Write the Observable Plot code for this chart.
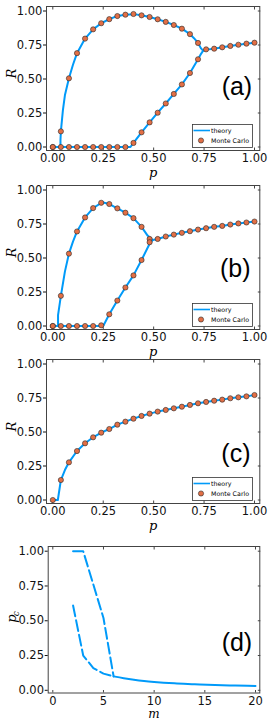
<!DOCTYPE html>
<html><head><meta charset="utf-8">
<script src="https://cdn.jsdelivr.net/npm/d3@7"></script>
<script src="https://cdn.jsdelivr.net/npm/@observablehq/plot@0.6"></script>
<style>
body{margin:0;background:#fff;width:274px;height:720px;overflow:hidden;position:relative;}
.panel{position:absolute;left:0;width:274px;}
.legend{position:absolute;}
</style></head><body>
<script>
// ---------- data ----------
const pMC = [0,0.04,0.08,0.12,0.16,0.2,0.24,0.28,0.32,0.36,0.4,0.44,0.48,0.52,0.56,0.6,0.64,0.68,0.72,0.76,0.8,0.84,0.88,0.92,0.96,1];

// panel (a)
const aMCUpper = [0,0.115,0.505,0.69,0.797,0.865,0.91,0.94,0.963,0.973,0.978,0.968,0.956,0.939,0.92,0.897,0.87,0.83,0.765,0.718,0.723,0.733,0.743,0.752,0.76,0.767];
const aMCLower = [0,0,0,0,0,0,0,0,0,0,0.03,0.108,0.181,0.252,0.32,0.39,0.46,0.544,0.645];
const aTheoryUpperP = [0,0.038,0.038,0.04,0.05,0.06,0.08,0.10,0.12,0.16,0.20,0.24,0.28,0.32,0.36,0.40,0.44,0.48,0.52,0.56,0.60,0.64,0.68,0.70,0.72,0.735,0.745,0.76,0.80,0.84,0.88,0.92,0.96,1.00];
const aTheoryUpperR = [0,0,0.05,0.115,0.27,0.38,0.505,0.605,0.69,0.797,0.865,0.91,0.94,0.963,0.973,0.977,0.968,0.956,0.939,0.92,0.897,0.87,0.83,0.80,0.765,0.725,0.708,0.716,0.723,0.733,0.743,0.752,0.76,0.767];
const aTheoryLowerP = [0,0.385,0.40,0.44,0.48,0.52,0.56,0.60,0.64,0.68,0.72,0.735,0.745];
const aTheoryLowerR = [0,0,0.03,0.108,0.181,0.252,0.32,0.39,0.46,0.544,0.645,0.685,0.708];

// panel (b)
const bMCUpper = [0,0.222,0.532,0.695,0.798,0.867,0.906,0.897,0.865,0.833,0.793,0.729,0.64,0.64,0.658,0.672,0.685,0.697,0.709,0.719,0.729,0.736,0.746,0.754,0.761,0.768];
const bMCLower = [0,0,0,0,0,0,0.005,0.086,0.187,0.283,0.372,0.485,0.616];
const bTheoryUpperP = [0,0.026,0.026,0.04,0.06,0.08,0.10,0.12,0.16,0.20,0.245,0.28,0.32,0.36,0.40,0.44,0.47,0.495,0.52,0.56,0.60,0.64,0.68,0.72,0.76,0.80,0.84,0.88,0.92,0.96,1.00];
const bTheoryUpperR = [0,0,0.08,0.222,0.40,0.532,0.62,0.695,0.798,0.867,0.91,0.897,0.865,0.833,0.793,0.729,0.665,0.632,0.64,0.658,0.672,0.685,0.697,0.709,0.719,0.729,0.736,0.746,0.754,0.761,0.768];
const bTheoryLowerP = [0,0.25,0.28,0.32,0.36,0.40,0.44,0.48,0.495];
const bTheoryLowerR = [0,0,0.086,0.187,0.283,0.372,0.485,0.605,0.632];

// panel (c)
const cMC = [0,0.147,0.277,0.36,0.417,0.461,0.495,0.522,0.554,0.576,0.598,0.618,0.635,0.65,0.662,0.674,0.686,0.699,0.711,0.721,0.73,0.738,0.748,0.755,0.762,0.772];
const cTheoryP = [0,0.025,0.04,0.06,0.08,0.12,0.16,0.2,0.24,0.28,0.32,0.36,0.4,0.44,0.48,0.52,0.56,0.6,0.64,0.68,0.72,0.76,0.8,0.84,0.88,0.92,0.96,1];
const cTheoryR = [0,0,0.147,0.22,0.277,0.36,0.417,0.461,0.495,0.522,0.554,0.576,0.598,0.618,0.635,0.65,0.662,0.674,0.686,0.699,0.711,0.721,0.73,0.738,0.748,0.755,0.762,0.772];

// panel (d)
const dUpperM = [2,3,4,5,6];
const dUpperP = [1,1,0.76,0.52,0.10];
const dLowerM = [2,3,4,5,6];
const dLowerP = [0.61,0.25,0.16,0.12,0.10];
const dSolidM = [6,7,8,9,10,12,14,16,18,20];
const dSolidP = [0.100,0.087,0.076,0.067,0.060,0.050,0.044,0.038,0.034,0.031];

const pTicks = [0,0.25,0.5,0.75,1];
const mTicks = [0,5,10,15,20];
const panelLabels = ["(a)","(b)","(c)","(d)"];
const legendLabels = ["theory","Monte Carlo"];

// ---------- styles ----------
const BLUE = "#009AF9", ORANGE = "#E26F46";
const TICKFONT = "DejaVu Sans, sans-serif";
const TICKSIZE = 11.5;
const SERIF = "DejaVu Serif, Liberation Serif, serif";

const toPts = (xs, ys) => xs.map((x, i) => ({x, y: ys[i]}));

function frameMarks(xTicks, xFmt) {
  return [
    Plot.frame({stroke: "#444", strokeWidth: 1}),
    Plot.axisY({ticks: pTicks, tickFormat: d3.format(".2f"), tickSize: 3, tickPadding: 1.2, fontSize: TICKSIZE, fontFamily: TICKFONT, color: "#111", label: null}),
    Plot.axisY({anchor: "right", ticks: pTicks, tickSize: -2.5, tickFormat: () => "", label: null, color: "#444"}),
    Plot.axisX({ticks: xTicks, tickSize: -2.5, tickFormat: () => "", label: null, color: "#444"}),
    Plot.axisX({ticks: xTicks, tickSize: 0, tickPadding: 3.5, tickFormat: xFmt, fontSize: TICKSIZE, fontFamily: TICKFONT, color: "#111", label: null}),
    Plot.axisX({anchor: "top", ticks: xTicks, tickSize: -2.5, tickFormat: () => "", label: null, color: "#444"})
  ];
}

function rPanel(opts) {
  const {top, theories, mcs, label, labelDx, labelDy} = opts;
  const marks = [...frameMarks(pTicks, d3.format(".2f"))];
  theories.forEach(t => marks.push(Plot.line(t, {x: "x", y: "y", stroke: BLUE, strokeWidth: 2, strokeLinejoin: "round", curve: "linear"})));
  mcs.forEach(m => marks.push(Plot.dot(m, {x: "x", y: "y", r: 2.6, fill: ORANGE, stroke: "#2a2a2a", strokeWidth: 0.6})));
  marks.push(Plot.text([label], {frameAnchor: "right", dx: labelDx, dy: labelDy, fontSize: 25, fontFamily: "Liberation Sans, Arial, sans-serif", fill: "#000"}));
  marks.push(Plot.text(["p"], {frameAnchor: "bottom", dy: 22, lineAnchor: "middle", fontSize: 13, fontStyle: "italic", fontFamily: SERIF, fill: "#000"}));
  marks.push(Plot.text(["R"], {frameAnchor: "left", dx: -35, rotate: -90, fontSize: 13, fontStyle: "italic", fontFamily: SERIF, fill: "#000"}));
  const svg = Plot.plot({
    width: 274, height: 180,
    marginLeft: 46, marginRight: 14.7, marginTop: 7, marginBottom: 29,
    x: {domain: [0, 1], insetLeft: 6.3, insetRight: 5.3},
    y: {domain: [0, 1], insetTop: 4.5, insetBottom: 3.5},
    style: {background: "transparent", overflow: "visible"},
    marks
  });
  const div = document.createElement("div");
  div.className = "panel";
  div.style.top = top + "px";
  div.appendChild(svg);
  document.body.appendChild(div);
}

function legend(left, top) {
  const s = d3.create("svg").attr("width", 61).attr("height", 24).attr("class", "legend")
    .style("left", left + "px").style("top", top + "px");
  s.append("rect").attr("x", 0.5).attr("y", 0.5).attr("width", 60).attr("height", 23).attr("fill", "#fff").attr("stroke", "#333").attr("stroke-width", 0.8);
  s.append("line").attr("x1", 1.5).attr("x2", 18).attr("y1", 6.5).attr("y2", 6.5).attr("stroke", BLUE).attr("stroke-width", 1.6);
  s.append("text").attr("x", 19).attr("y", 6.5).attr("dy", "0.35em").attr("font-size", 6.3).attr("font-family", TICKFONT).text(legendLabels[0]);
  s.append("circle").attr("cx", 9).attr("cy", 16.5).attr("r", 2.6).attr("fill", ORANGE).attr("stroke", "#2a2a2a").attr("stroke-width", 0.6);
  s.append("text").attr("x", 19).attr("y", 16.5).attr("dy", "0.35em").attr("font-size", 6.3).attr("font-family", TICKFONT).text(legendLabels[1]);
  document.body.appendChild(s.node());
}

// (a)
rPanel({top: -1, label: panelLabels[0], labelDx: -7.6, labelDy: 8,
  theories: [toPts(aTheoryUpperP, aTheoryUpperR), toPts(aTheoryLowerP, aTheoryLowerR)],
  mcs: [toPts(pMC, aMCUpper), toPts(pMC.slice(0, aMCLower.length), aMCLower)]});
legend(191.5, 123.5);

// (b)
rPanel({top: 178.3, label: panelLabels[1], labelDx: -9.3, labelDy: 11.7,
  theories: [toPts(bTheoryUpperP, bTheoryUpperR), toPts(bTheoryLowerP, bTheoryLowerR)],
  mcs: [toPts(pMC, bMCUpper), toPts(pMC.slice(0, bMCLower.length), bMCLower)]});
legend(191.5, 303.3);

// (c)
rPanel({top: 352.3, label: panelLabels[2], labelDx: -9.3, labelDy: 22,
  theories: [toPts(cTheoryP, cTheoryR)],
  mcs: [toPts(pMC, cMC)]});
legend(191.5, 477);

// (d)
{
  const marks = [...frameMarks(mTicks, d3.format("d"))];
  marks.push(Plot.line(toPts(dUpperM, dUpperP), {x: "x", y: "y", stroke: BLUE, strokeWidth: 2, strokeDasharray: "11,4"}));
  marks.push(Plot.line(toPts(dLowerM, dLowerP), {x: "x", y: "y", stroke: BLUE, strokeWidth: 2, strokeDasharray: "11,4"}));
  marks.push(Plot.line(toPts(dSolidM, dSolidP), {x: "x", y: "y", stroke: BLUE, strokeWidth: 2, curve: "monotone-x"}));
  marks.push(Plot.text([panelLabels[3]], {frameAnchor: "right", dx: -7.6, dy: 23, fontSize: 25, fontFamily: "Liberation Sans, Arial, sans-serif", fill: "#000"}));
  marks.push(Plot.text(["m"], {frameAnchor: "bottom", dy: 21, lineAnchor: "middle", fontSize: 12, fontStyle: "italic", fontFamily: SERIF, fill: "#000"}));
  marks.push(Plot.text(["p"], {frameAnchor: "left", dx: -36, dy: 3, rotate: -90, fontSize: 13, fontStyle: "italic", fontFamily: SERIF, fill: "#000"}));
  marks.push(Plot.text(["c"], {frameAnchor: "left", dx: -32.5, dy: -3.5, rotate: -90, fontSize: 9, fontStyle: "italic", fontFamily: SERIF, fill: "#000"}));
  const svg = Plot.plot({
    width: 274, height: 183,
    marginLeft: 47.7, marginRight: 14.7, marginTop: 7, marginBottom: 29.5,
    x: {domain: [0, 20], insetLeft: 4.6, insetRight: 4.3},
    y: {domain: [0, 1], insetTop: 4.7, insetBottom: 2.7},
    style: {background: "transparent", overflow: "visible"},
    marks
  });
  const div = document.createElement("div");
  div.className = "panel";
  div.style.top = "539px";
  div.appendChild(svg);
  document.body.appendChild(div);
}
</script>
</body></html>
